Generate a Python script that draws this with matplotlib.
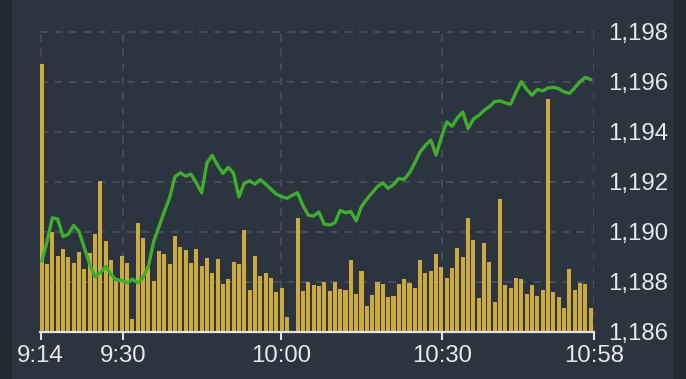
import matplotlib
matplotlib.use("Agg")
import matplotlib.pyplot as plt
from matplotlib.patches import Rectangle
from matplotlib.ticker import FuncFormatter, FixedLocator
import matplotlib.transforms as mtransforms

# ---- data ----
price = [1188.8, 1189.6, 1190.55, 1190.5, 1189.8, 1189.9, 1190.25, 1190.0, 1189.35, 1188.7,
         1188.2, 1188.35, 1188.6, 1188.3, 1188.05, 1188.05, 1187.95, 1188.1, 1187.95, 1188.15,
         1188.6, 1189.6, 1190.2, 1190.8, 1191.35, 1192.2, 1192.35, 1192.22, 1192.3, 1191.95,
         1191.55, 1192.75, 1193.05, 1192.65, 1192.33, 1192.57, 1192.33, 1191.39, 1191.93, 1192.03,
         1191.9, 1192.08, 1191.9, 1191.7, 1191.5, 1191.4, 1191.33, 1191.45, 1191.55, 1191.05,
         1190.66, 1190.62, 1190.78, 1190.3, 1190.26, 1190.35, 1190.85, 1190.75, 1190.8, 1190.43,
         1191.0, 1191.3, 1191.55, 1191.8, 1191.95, 1191.73, 1191.88, 1192.12, 1192.09, 1192.35,
         1192.75, 1193.19, 1193.45, 1193.66, 1193.06, 1193.79, 1194.39, 1194.22, 1194.55, 1194.79,
         1194.13, 1194.5, 1194.65, 1194.85, 1195.0, 1195.2, 1195.23, 1195.15, 1195.1, 1195.59,
         1196.0, 1195.69, 1195.46, 1195.69, 1195.63, 1195.75, 1195.77, 1195.72, 1195.59, 1195.53,
         1195.75, 1196.0, 1196.17, 1196.08]

volume = [268, 68, 100, 76, 83, 75, 69, 80, 63, 79,
          98, 151, 91, 72, 54, 76, 69, 13, 109, 94,
          66, 51, 81, 78, 68, 96, 85, 82, 69, 83,
          66, 74, 59, 73, 48, 53, 70, 68, 102, 42,
          76, 56, 59, 54, 40, 44, 15, 0, 114, 41,
          50, 47, 46, 50, 41, 50, 43, 42, 72, 38,
          61, 26, 37, 50, 48, 35, 36, 48, 53, 49,
          44, 72, 59, 61, 78, 65, 54, 64, 84, 75,
          114, 92, 34, 89, 70, 30, 133, 47, 44, 54,
          53, 38, 47, 36, 42, 233, 40, 35, 24, 63,
          42, 49, 48, 24]

x_tick_labels = ["9:14", "9:30", "10:00", "10:30", "10:58"]
x_tick_pos = [-0.19, 15.25, 44.84, 75.05, 103.62]
price_ticks = [1186, 1188, 1190, 1192, 1194, 1196, 1198]

# ---- style ----
BG = "#2c3440"
EDGE = "#232a33"
GRID = "#4b5461"
TXT = "#e6e8ea"
BAR = "#cdaa3d"
LINE = "#3fae2c"
FONT = "Liberation Sans"
FS = 17.3

W, H = 686, 379
fig = plt.figure(figsize=(W / 100, H / 100), dpi=100, facecolor=BG)

# darker side strips
fig.patches.append(Rectangle((0, 0), 12 / W, 1, transform=fig.transFigure,
                             facecolor=EDGE, edgecolor="none", zorder=0))
fig.patches.append(Rectangle((673 / W, 0), 13 / W, 1, transform=fig.transFigure,
                             facecolor=EDGE, edgecolor="none", zorder=0))

left, right = 40 / W, 594 / W
bottom, top = 1 - 331.5 / H, 1 - 31.7 / H
ax_v = fig.add_axes([left, bottom, right - left, top - bottom])
ax_v.set_facecolor("none")
ax = ax_v.twinx()
ax.set_zorder(ax_v.get_zorder() + 1)
ax.patch.set_visible(False)

n = len(volume)
xs = list(range(n))
ax_v.bar(xs, volume, width=0.76, color=BAR, edgecolor="none", zorder=3)
ax_v.set_ylim(0, 300)
ax_v.set_xlim(-0.32, 103.62)
ax_v.set_yticks([])

# grid (behind bars)
blend = mtransforms.blended_transform_factory(ax_v.transAxes, ax.transData)
ax.set_ylim(1186, 1198)
for p in price_ticks[1:]:
    ax_v.plot([0, 1], [p, p], transform=blend, color=GRID, lw=1.1,
              dashes=(5, 4.5), zorder=1, clip_on=False)
for xp in x_tick_pos:
    ax_v.axvline(xp, color=GRID, lw=1.1, dashes=(5, 4.5), zorder=1)

ax.plot(xs, price, color=LINE, lw=2.4, zorder=5, solid_joinstyle="round",
        solid_capstyle="round")
ax.set_xlim(-0.32, 103.62)

ax.yaxis.set_major_locator(FixedLocator(price_ticks))
ax.yaxis.set_major_formatter(FuncFormatter(lambda v, _: f"{v:,.0f}"))
ax.tick_params(axis="y", length=0, pad=10.5, labelsize=FS, labelcolor=TXT)
for lab in ax.get_yticklabels():
    lab.set_fontfamily(FONT)

ax_v.set_xticks(x_tick_pos)
ax_v.set_xticklabels(x_tick_labels, fontfamily=FONT)
ax_v.tick_params(axis="x", direction="out", length=6, width=1.5, color="#e0e2e4",
                 pad=4, labelsize=FS, labelcolor=TXT)
ax.tick_params(axis="x", length=0, labelbottom=False)

for a in (ax, ax_v):
    for s in a.spines.values():
        s.set_visible(False)
ax_v.spines["bottom"].set_visible(True)
ax_v.spines["bottom"].set_color("#e0e2e4")
ax_v.spines["bottom"].set_linewidth(1.6)
ax_v.spines["bottom"].set_zorder(6)

fig.savefig("out.png", dpi=100, facecolor=BG)
